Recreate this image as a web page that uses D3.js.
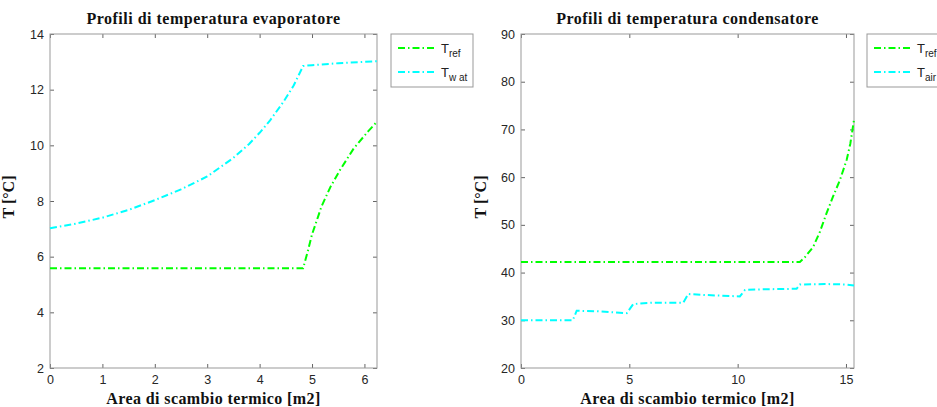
<!DOCTYPE html>
<html><head><meta charset="utf-8">
<script src="https://cdn.jsdelivr.net/npm/d3@7"></script>
<style>
body{margin:0;background:#fff;}
svg{display:block;}
.tick text{font-family:"Liberation Sans",Arial,sans-serif;font-size:12.5px;fill:#262626;}
</style></head>
<body>
<svg id="c" width="937" height="407"></svg>
<script>
// ---- Evaporator data ----
const evapArea = [0, 0.5, 1.0, 1.5, 2.0, 2.5, 3.0, 3.5, 3.8, 4.0, 4.2, 4.45, 4.65, 4.83, 5.0, 5.5, 6.0, 6.24];
const evapTwat = [7.02, 7.19, 7.40, 7.68, 8.03, 8.42, 8.88, 9.55, 10.05, 10.45, 10.9, 11.55, 12.15, 12.85, 12.88, 12.95, 13.0, 13.02];
const evapRefArea = [0, 4.83, 4.92, 5.0, 5.1, 5.18, 5.35, 5.53, 5.8, 6.07, 6.24];
const evapTref = [5.58, 5.58, 6.2, 6.8, 7.35, 7.8, 8.5, 9.1, 9.9, 10.5, 10.85];
const evapXTicks = [0, 1, 2, 3, 4, 5, 6];
const evapYTicks = [2, 4, 6, 8, 10, 12, 14];

// ---- Condenser data ----
const condRefArea = [0, 12.87, 13.1, 13.49, 13.8, 14.1, 14.4, 14.72, 15.03, 15.2, 15.37];
const condTref = [42.2, 42.2, 43.2, 45.4, 48.6, 52.4, 55.9, 59.4, 63.6, 67.0, 72.0];
const condAirArea = [0, 2.39, 2.57, 3.5, 4.88, 5.18, 6.1, 7.49, 7.72, 8.5, 10.1, 10.34, 11.2, 12.72, 12.87, 14.0, 15.0, 15.37];
const condTair = [30.0, 30.0, 32.0, 31.9, 31.5, 33.4, 33.7, 33.7, 35.5, 35.3, 35.0, 36.35, 36.5, 36.6, 37.5, 37.6, 37.5, 37.3];
const condXTicks = [0, 5, 10, 15];
const condYTicks = [20, 30, 40, 50, 60, 70, 80, 90];

const svg = d3.select("#c");
const GREEN = "#00ff00", CYAN = "#00ffff";
const DASH = "7,3,1.5,3";

function panel(cfg) {
  const x = d3.scaleLinear().domain(cfg.xDomain).range([cfg.left, cfg.right]);
  const y = d3.scaleLinear().domain(cfg.yDomain).range([cfg.bottom, cfg.top]);
  const g = svg.append("g");
  const tk = 4;
  const ax = (sel) => sel.selectAll(".domain").remove();
  g.append("g").attr("transform", `translate(0,${cfg.bottom})`)
    .call(d3.axisBottom(x).tickValues(cfg.xTicks).tickSize(-tk).tickPadding(7).tickFormat(d3.format("d"))).call(ax);
  g.append("g").attr("transform", `translate(0,${cfg.top})`)
    .call(d3.axisTop(x).tickValues(cfg.xTicks).tickSize(-tk).tickFormat("")).call(ax);
  g.append("g").attr("transform", `translate(${cfg.left},0)`)
    .call(d3.axisLeft(y).tickValues(cfg.yTicks).tickSize(-tk).tickPadding(6).tickFormat(d3.format("d"))).call(ax);
  g.append("g").attr("transform", `translate(${cfg.right},0)`)
    .call(d3.axisRight(y).tickValues(cfg.yTicks).tickSize(-tk).tickFormat("")).call(ax);
  g.selectAll(".tick line").attr("stroke", "#666");
  g.append("rect").attr("x", cfg.left).attr("y", cfg.top)
    .attr("width", cfg.right - cfg.left).attr("height", cfg.bottom - cfg.top)
    .attr("fill", "none").attr("stroke", "#999").attr("stroke-width", 1);

  const line = d3.line().x(d => x(d[0])).y(d => y(d[1]));
  cfg.series.forEach(s => {
    g.append("path").datum(d3.zip(s.xs, s.ys))
      .attr("d", line).attr("fill", "none").attr("stroke", s.color)
      .attr("stroke-width", 2).attr("stroke-dasharray", DASH);
  });

  const cx = (cfg.left + cfg.right) / 2;
  const serif = "'Liberation Serif','Times New Roman',serif";
  g.append("text").attr("x", cx).attr("y", 24).attr("text-anchor", "middle")
    .attr("font-family", serif).attr("font-weight", "bold")
    .attr("font-size", 16).attr("letter-spacing", "0.5px").attr("fill", "#111").text(cfg.title);
  g.append("text").attr("x", cx).attr("y", 404).attr("text-anchor", "middle")
    .attr("font-family", serif).attr("font-weight", "bold")
    .attr("font-size", 16).attr("letter-spacing", "0.4px").attr("fill", "#111").text("Area di scambio termico [m2]");
  g.append("text").attr("transform", `translate(${cfg.left - cfg.ylOff},${(cfg.top + cfg.bottom) / 2 - 4}) rotate(-90)`)
    .attr("text-anchor", "middle")
    .attr("font-family", serif).attr("font-weight", "bold")
    .attr("font-size", 16).attr("fill", "#111").text("T [°C]");

  // legend
  const lg = g.append("g").attr("transform", `translate(${cfg.legX},${cfg.top})`);
  lg.append("rect").attr("width", cfg.legW).attr("height", 53).attr("fill", "#fff").attr("stroke", "#999");
  cfg.series.forEach((s, i) => {
    const yy = 14 + i * 24;
    lg.append("line").attr("x1", 7).attr("x2", 46).attr("y1", yy).attr("y2", yy)
      .attr("stroke", s.color).attr("stroke-width", 2).attr("stroke-dasharray", DASH);
    const t = lg.append("text").attr("x", 50).attr("y", yy + 5)
      .attr("font-family", "'Liberation Sans',Arial,sans-serif").attr("font-size", 13).attr("fill", "#222");
    t.append("tspan").text("T");
    t.append("tspan").attr("dy", 4).attr("font-size", 10).text(s.sub);
  });
}

panel({
  left: 50, right: 377, top: 34, bottom: 368,
  xDomain: [0, 6.24], yDomain: [2, 14],
  xTicks: evapXTicks, yTicks: evapYTicks,
  title: "Profili di temperatura evaporatore",
  legX: 391, legW: 82, ylOff: 36,
  series: [
    {xs: evapRefArea, ys: evapTref, color: GREEN, sub: "ref"},
    {xs: evapArea, ys: evapTwat, color: CYAN, sub: "w at"}
  ]
});
panel({
  left: 521, right: 854, top: 34, bottom: 368,
  xDomain: [0, 15.37], yDomain: [20, 90],
  xTicks: condXTicks, yTicks: condYTicks,
  title: "Profili di temperatura condensatore",
  legX: 867, legW: 82, ylOff: 35,
  series: [
    {xs: condRefArea, ys: condTref, color: GREEN, sub: "ref"},
    {xs: condAirArea, ys: condTair, color: CYAN, sub: "air"}
  ]
});
</script>
</body></html>
